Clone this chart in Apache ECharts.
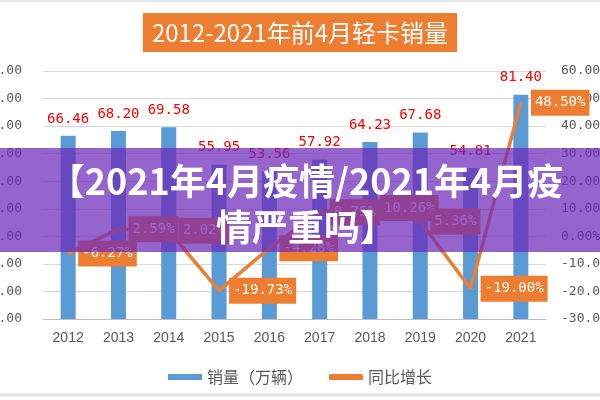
<!DOCTYPE html>
<html>
<head>
<meta charset="utf-8">
<script src="https://cdn.jsdelivr.net/npm/echarts@6/dist/echarts.min.js"></script>
<style>html,body{margin:0;padding:0;background:#fff;}#c{width:600px;height:400px;}</style>
</head>
<body>
<div id="c"></div>
<script>
const categories = ['2012','2013','2014','2015','2016','2017','2018','2019','2020','2021'];
const sales = [66.46, 68.20, 69.58, 55.95, 53.56, 57.92, 64.23, 67.68, 54.81, 81.40];
const growth = [-6.27, 2.59, 2.02, -19.73, -4.28, 8.75, 10.26, 5.36, -19.00, 48.50];
const seriesNames = ['销量（万辆）', '同比增长'];
const titleText = '2012-2021年前4月轻卡销量';
const overlayText = '【2021年4月疫情/2021年4月疫\n情严重吗】';

const MONO = "'DejaVu Sans Mono',monospace";
const CJK = "'Noto Sans CJK SC','Noto Sans',sans-serif";
const chart = echarts.init(document.getElementById('c'));
chart.setOption({
  backgroundColor: '#fff',
  animation: false,
  title: {
    text: titleText, left: 'center', top: 13,
    backgroundColor: '#ED7D31', padding: [7, 9, 6, 9],
    textStyle: { color: '#fff', fontSize: 24, fontWeight: 'normal', fontFamily: CJK, lineHeight: 26 }
  },
  legend: {
    top: 364, left: 'center', itemWidth: 34, itemHeight: 6, itemGap: 26,
    textStyle: { color: '#595959', fontSize: 16, fontFamily: CJK },
    data: [{ name: seriesNames[0], icon: 'rect' }, { name: seriesNames[1], icon: 'roundRect' }]
  },
  grid: { left: 43, right: 54, top: 71, bottom: 81, outerBoundsMode: 'none', containLabel: false },
  xAxis: {
    type: 'category', data: categories,
    axisLine: { lineStyle: { color: '#BFBFBF', width: 1 } },
    axisTick: { show: false },
    axisLabel: { color: '#595959', fontSize: 14, fontFamily: "'Liberation Sans',Arial,sans-serif", margin: 12 }
  },
  yAxis: [
    {
      type: 'value', min: 0, max: 90, interval: 10,
      axisLine: { show: false }, axisTick: { show: false },
      splitLine: { lineStyle: { color: '#D9D9D9' } },
      axisLabel: { color: '#595959', fontSize: 13, fontFamily: MONO, margin: 21, formatter: v => v.toFixed(2) }
    },
    {
      type: 'value', min: -30, max: 60, interval: 10,
      axisLine: { show: false }, axisTick: { show: false }, splitLine: { show: false },
      axisLabel: { color: '#595959', fontSize: 13, fontFamily: MONO, margin: 15, formatter: v => v.toFixed(2) + '%' }
    }
  ],
  series: [
    {
      name: seriesNames[0], type: 'bar', data: sales, barWidth: 15,
      itemStyle: { color: '#5B9BD5' },
      label: { show: true, position: 'top', distance: 10, color: '#FF0000', fontSize: 14, fontFamily: MONO, formatter: p => p.value.toFixed(2) }
    },
    {
      name: seriesNames[1], type: 'line', yAxisIndex: 1, data: growth,
      symbol: 'circle', symbolSize: 0.1, showSymbol: true,
      lineStyle: { color: '#ED7D31', width: 3.5 }, itemStyle: { color: '#ED7D31' },
      label: {
        show: true, position: 'right', distance: 10, color: '#fff', backgroundColor: '#ED7D31',
        padding: [6, 4, 6, 4], fontSize: 14, fontFamily: MONO, formatter: p => p.value.toFixed(2) + '%'
      },
      labelLayout: { hideOverlap: false },
      z: 3
    }
  ],
  graphic: [
    { type: 'line', shape: { x1: 0, y1: 1, x2: 600, y2: 1 }, style: { stroke: '#E6E6E6', lineWidth: 2 }, z: 50 },
    { type: 'line', shape: { x1: 0, y1: 395, x2: 600, y2: 395 }, style: { stroke: '#E3E3E3', lineWidth: 3 }, z: 50 },
    { type: 'rect', shape: { x: 0, y: 148, width: 600, height: 104 }, style: { fill: 'rgba(110,40,186,0.72)' }, z: 100 },
    {
      type: 'text', x: 306, y: 204, z: 101,
      style: {
        text: overlayText, fill: '#fff', align: 'center', verticalAlign: 'middle',
        font: "bold 36px 'Noto Sans CJK SC', sans-serif", lineHeight: 46
      }
    }
  ]
});
</script>
</body>
</html>
